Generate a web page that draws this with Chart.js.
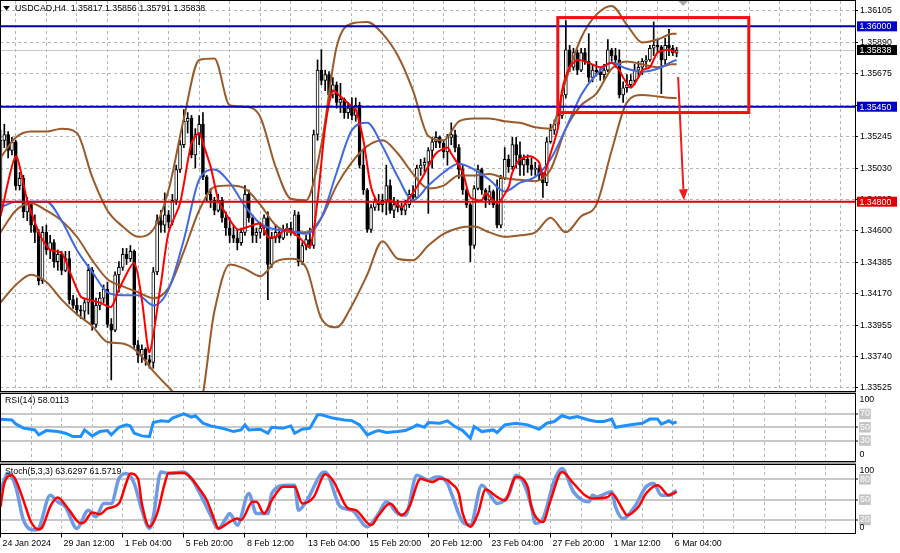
<!DOCTYPE html>
<html><head><meta charset="utf-8">
<script src="https://cdn.jsdelivr.net/npm/chart.js@4.4.1/dist/chart.umd.min.js"></script>
<style>
html,body{margin:0;padding:0;background:#fff;}
#wrap{position:relative;width:900px;height:553px;overflow:hidden;background:#fff;}
canvas{position:absolute;left:0;}
</style></head><body>
<div id="wrap">
<canvas id="cMain" width="900" height="393" style="top:0px"></canvas>
<canvas id="cRsi" width="900" height="70" style="top:392px"></canvas>
<canvas id="cSto" width="900" height="91" style="top:462px"></canvas>
</div>
<script>
// ---------- axis / tick data ----------
const xTickIdx = [0,16,32,48,64,80,96,112,128,144,160,176];
const xLabels = ['24 Jan 2024','29 Jan 12:00','1 Feb 04:00','5 Feb 20:00','8 Feb 12:00','13 Feb 04:00','15 Feb 20:00','20 Feb 12:00','23 Feb 04:00','27 Feb 20:00','1 Mar 12:00','6 Mar 04:00'];
const gridIdx = [0,8,16,24,32,40,48,56,64,72,80,88,96,104,112,120,128,136,144,152,160,168,176,184,192,200,208,216];
const priceTicks = [1.36105,1.35890,1.35675,1.35460,1.35245,1.35030,1.34815,1.34600,1.34385,1.34170,1.33955,1.33740,1.33525];
const levelPrices = [1.36000,1.35450,1.34800];
const bidPrice = 1.35838;
const title = 'USDCAD,H4  1.35817 1.35856 1.35791 1.35838';
const rsiTitle = 'RSI(14) 58.0113';
const stoTitle = 'Stoch(5,3,3) 63.6297 61.5719';
const rsiLevels = [30,50,70];
const stoLevels = [20,50,80];
// box annotation (bar index / price) and arrow
const boxArea = [145.9, 195.9, 1.3606, 1.3541];
const arrowPts = [177.4, 1.35653, 178.9, 1.3481];

// ---------- candles (H4 bars, index 0..177) ----------
const open = [1.3474,1.3522,1.3526,1.3515,1.3521,1.3491,1.3496,1.3473,1.3478,1.3464,1.3459,1.3426,1.3459,1.3447,1.3452,1.3439,1.3444,1.3433,1.3441,1.3413,
1.3409,1.3406,1.3405,1.3411,1.3433,1.3396,1.3409,1.3414,1.3420,1.3396,1.3392,1.3430,1.3435,1.3444,1.3441,1.3446,1.3382,1.3375,1.3379,1.3372,
1.3370,1.3432,1.3467,1.3464,1.3471,1.3466,1.3481,1.3502,1.3519,1.3535,1.3537,1.3512,1.3526,1.3533,1.3497,1.3485,1.3481,1.3474,1.3481,1.3469,
1.3462,1.3457,1.3455,1.3452,1.3459,1.3485,1.3469,1.3457,1.3459,1.3462,1.3469,1.3437,1.3455,1.3459,1.3455,1.3461,1.3462,1.3459,1.3471,1.3439,
1.3450,1.3454,1.3450,1.3526,1.3570,1.3563,1.3567,1.3553,1.3560,1.3548,1.3550,1.3541,1.3544,1.3539,1.3546,1.3505,1.3488,1.3461,1.3476,1.3480,
1.3478,1.3481,1.3491,1.3474,1.3478,1.3476,1.3474,1.3478,1.3485,1.3483,1.3503,1.3505,1.3507,1.3515,1.3521,1.3524,1.3520,1.3514,1.3524,1.3526,
1.3517,1.3502,1.3488,1.3478,1.3450,1.3489,1.3502,1.3488,1.3481,1.3487,1.3478,1.3464,1.3496,1.3509,1.3504,1.3519,1.3512,1.3505,1.3509,1.3505,
1.3502,1.3503,1.3498,1.3493,1.3521,1.3529,1.3533,1.3539,1.3553,1.3584,1.3572,1.3582,1.3570,1.3582,1.3576,1.3565,1.3570,1.3569,1.3567,1.3570,
1.3584,1.3580,1.3577,1.3553,1.3558,1.3560,1.3563,1.3570,1.3572,1.3576,1.3577,1.3585,1.3587,1.3586,1.3577,1.3587,1.3585,1.35817];
const high = [1.3529,1.3533,1.3528,1.3524,1.3522,1.3500,1.3498,1.3483,1.3479,1.3471,1.3461,1.3463,1.3464,1.3457,1.3454,1.3447,1.3446,1.3446,1.3446,1.3416,
1.3414,1.3409,1.3414,1.3437,1.3435,1.3414,1.3418,1.3423,1.3425,1.3400,1.3432,1.3439,1.3448,1.3448,1.3450,1.3447,1.3385,1.3382,1.3380,1.3375,
1.3435,1.3471,1.3474,1.3486,1.3474,1.3485,1.3505,1.3522,1.3543,1.3541,1.3539,1.3530,1.3539,1.3541,1.3498,1.3489,1.3483,1.3485,1.3483,1.3473,
1.3469,1.3464,1.3461,1.3462,1.3491,1.3488,1.3471,1.3462,1.3466,1.3471,1.3473,1.3459,1.3464,1.3462,1.3464,1.3465,1.3466,1.3474,1.3473,1.3452,
1.3457,1.3462,1.3529,1.3577,1.3584,1.3570,1.3569,1.3565,1.3562,1.3561,1.3551,1.3548,1.3551,1.3551,1.3548,1.3515,1.3489,1.3478,1.3483,1.3485,
1.3485,1.3505,1.3495,1.3483,1.3481,1.3479,1.3481,1.3488,1.3491,1.3505,1.3509,1.3510,1.3517,1.3524,1.3528,1.3525,1.3522,1.3526,1.3534,1.3529,
1.3519,1.3505,1.3489,1.3479,1.3491,1.3505,1.3503,1.3489,1.3491,1.3488,1.3495,1.3498,1.3517,1.3512,1.3524,1.3524,1.3521,1.3512,1.3512,1.3510,
1.3507,1.3505,1.3500,1.3524,1.3533,1.3536,1.3543,1.3556,1.3604,1.3587,1.3585,1.3584,1.3585,1.3585,1.3595,1.3574,1.3576,1.3571,1.3574,1.3591,
1.3585,1.3585,1.3584,1.3562,1.3567,1.3567,1.3574,1.3576,1.3578,1.3580,1.3587,1.3603,1.3591,1.3587,1.3592,1.3598,1.3587,1.35856];
const low = [1.3473,1.3517,1.3510,1.3512,1.3488,1.3488,1.3469,1.3467,1.3459,1.3452,1.3423,1.3424,1.3444,1.3441,1.3435,1.3433,1.3430,1.3432,1.3410,1.3407,
1.3403,1.3400,1.3399,1.3403,1.3392,1.3394,1.3406,1.3411,1.3394,1.3358,1.3391,1.3418,1.3433,1.3437,1.3439,1.3380,1.3370,1.3370,1.3368,1.3366,
1.3366,1.3430,1.3459,1.3459,1.3462,1.3464,1.3478,1.3500,1.3517,1.3527,1.3510,1.3503,1.3519,1.3495,1.3480,1.3476,1.3471,1.3473,1.3466,1.3457,
1.3452,1.3452,1.3447,1.3450,1.3457,1.3466,1.3452,1.3452,1.3455,1.3457,1.3413,1.3435,1.3452,1.3452,1.3454,1.3457,1.3457,1.3457,1.3436,1.3437,
1.3447,1.3448,1.3448,1.3522,1.3560,1.3556,1.3551,1.3551,1.3544,1.3541,1.3537,1.3537,1.3536,1.3535,1.3503,1.3485,1.3459,1.3459,1.3474,1.3474,
1.3473,1.3471,1.3472,1.3469,1.3473,1.3471,1.3471,1.3476,1.3480,1.3483,1.3498,1.3500,1.3472,1.3503,1.3517,1.3517,1.3510,1.3505,1.3519,1.3514,
1.3496,1.3485,1.3476,1.3439,1.3448,1.3488,1.3485,1.3476,1.3478,1.3476,1.3462,1.3462,1.3495,1.3500,1.3502,1.3503,1.3498,1.3498,1.3500,1.3498,
1.3498,1.3495,1.3483,1.3491,1.3520,1.3526,1.3531,1.3537,1.3551,1.3569,1.3570,1.3567,1.3569,1.3574,1.3562,1.3562,1.3566,1.3563,1.3563,1.3569,
1.3576,1.3572,1.3551,1.3548,1.3555,1.3558,1.3560,1.3565,1.3567,1.3572,1.3576,1.3580,1.3582,1.3554,1.3574,1.3580,1.3580,1.35791];
const close = [1.3522,1.3526,1.3515,1.3521,1.3491,1.3496,1.3473,1.3478,1.3464,1.3459,1.3426,1.3459,1.3447,1.3452,1.3439,1.3444,1.3433,1.3441,1.3413,1.3409,
1.3406,1.3405,1.3411,1.3433,1.3396,1.3409,1.3414,1.3420,1.3396,1.3392,1.3430,1.3435,1.3444,1.3441,1.3446,1.3382,1.3375,1.3379,1.3372,1.3370,
1.3432,1.3467,1.3464,1.3471,1.3466,1.3481,1.3502,1.3519,1.3535,1.3537,1.3512,1.3526,1.3533,1.3497,1.3485,1.3481,1.3474,1.3481,1.3469,1.3462,
1.3457,1.3455,1.3452,1.3459,1.3485,1.3469,1.3457,1.3459,1.3462,1.3469,1.3437,1.3455,1.3459,1.3455,1.3461,1.3462,1.3459,1.3471,1.3439,1.3450,
1.3454,1.3450,1.3526,1.3570,1.3563,1.3567,1.3553,1.3560,1.3548,1.3550,1.3541,1.3544,1.3539,1.3546,1.3505,1.3488,1.3461,1.3476,1.3480,1.3478,
1.3481,1.3491,1.3474,1.3478,1.3476,1.3474,1.3478,1.3485,1.3483,1.3503,1.3505,1.3507,1.3515,1.3521,1.3524,1.3520,1.3514,1.3524,1.3526,1.3517,
1.3502,1.3488,1.3478,1.3450,1.3489,1.3502,1.3488,1.3481,1.3487,1.3478,1.3464,1.3496,1.3509,1.3504,1.3519,1.3512,1.3505,1.3509,1.3505,1.3502,
1.3503,1.3498,1.3493,1.3521,1.3529,1.3533,1.3539,1.3553,1.3584,1.3572,1.3582,1.3570,1.3582,1.3576,1.3565,1.3570,1.3569,1.3567,1.3570,1.3584,
1.3580,1.3577,1.3553,1.3558,1.3560,1.3563,1.3570,1.3572,1.3576,1.3577,1.3585,1.3587,1.3586,1.3577,1.3587,1.3585,1.3582,1.35838];

// ---------- Bollinger bands & blue MA (read every 4 bars) ----------
const bandIdx = [0,4,8,12,16,20,24,28,32,36,40,44,48,52,56,60,64,68,72,76,80,84,88,92,96,100,104,108,112,116,120,124,128,132,136,140,144,148,152,156,160,164,168,172,176,177];
const bbUpper = [1.3510,1.3524,1.3528,1.3528,1.3530,1.3527,1.3497,1.3474,1.3463,1.3456,1.3461,1.3488,1.3537,1.3577,1.3578,1.3546,1.3545,1.3538,1.3504,1.3482,1.3481,1.3519,1.3586,1.3602,1.3603,1.3595,1.3580,1.3556,1.3525,1.3522,1.3535,1.3537,1.3537,1.3535,1.3534,1.3531,1.3530,1.3563,1.3592,1.3608,1.3614,1.3601,1.3589,1.3591,1.3595,1.3595];
const bbMid = [1.3459,1.3474,1.3479,1.3474,1.3467,1.3456,1.3440,1.3427,1.3422,1.3418,1.3414,1.3421,1.3446,1.3474,1.3490,1.3491,1.3489,1.3478,1.3464,1.3459,1.3459,1.3469,1.3491,1.3507,1.3518,1.3522,1.3513,1.3499,1.3489,1.3491,1.3498,1.3498,1.3499,1.3496,1.3495,1.3494,1.3502,1.3530,1.3546,1.3554,1.3571,1.3576,1.3574,1.3572,1.3574,1.3574];
const bbLower = [1.3411,1.3423,1.3430,1.3425,1.3413,1.3403,1.3395,1.3384,1.3383,1.3377,1.3364,1.3353,1.3343,1.3341,1.3405,1.3437,1.3434,1.3429,1.3439,1.3441,1.3435,1.3400,1.3394,1.3409,1.3430,1.3453,1.3441,1.3440,1.3450,1.3458,1.3462,1.3463,1.3459,1.3456,1.3457,1.3459,1.3469,1.3459,1.3470,1.3478,1.3515,1.3548,1.3553,1.3552,1.3551,1.3551];
const blueMA = [1.3476,1.3480,1.3480,1.3480,1.3467,1.3447,1.3432,1.3418,1.3416,1.3416,1.3409,1.3420,1.3454,1.3495,1.3502,1.3493,1.3477,1.3465,1.3461,1.3460,1.3458,1.3469,1.3500,1.3529,1.3534,1.3518,1.3497,1.3481,1.3491,1.3500,1.3506,1.3502,1.3495,1.3487,1.3493,1.3497,1.3509,1.3530,1.3553,1.3567,1.3575,1.3571,1.3569,1.3571,1.3576,1.3577];

// ---------- red fast MA ----------
const redIdx = [0,4,7,10,11,13,16,18,21,23,26,29,31,35,37,39,42,44,47,50,52,53,55,57,58,62,65,68,70,72,75,78,81,83,85,87,89,92,93,95,97,99,102,105,106,109,112,114,117,118,121,123,126,127,130,133,134,136,139,141,142,144,146,147,149,151,154,157,160,162,163,165,167,168,170,172,175,177];
const redMA = [1.3470,1.3511,1.3481,1.3459,1.3454,1.3447,1.3445,1.3433,1.3415,1.3413,1.3411,1.3408,1.3420,1.3438,1.3413,1.3377,1.3424,1.3459,1.3479,1.3520,1.3527,1.3520,1.3504,1.3481,1.3476,1.3461,1.3463,1.3465,1.3456,1.3456,1.3461,1.3456,1.3449,1.3481,1.3531,1.3556,1.3552,1.3545,1.3543,1.3522,1.3490,1.3479,1.3481,1.3476,1.3479,1.3490,1.3504,1.3513,1.3517,1.3513,1.3500,1.3483,1.3481,1.3486,1.3479,1.3490,1.3500,1.3509,1.3511,1.3507,1.3497,1.3513,1.3531,1.3556,1.3572,1.3577,1.3575,1.3572,1.3575,1.3570,1.3565,1.3558,1.3565,1.3570,1.3572,1.3582,1.3584,1.3582];

// ---------- RSI(14) ----------
const rsiIdx = [0,3,4,6,9,10,12,15,17,19,21,22,24,26,28,29,31,33,34,35,37,39,40,42,44,45,48,50,51,53,55,58,61,63,64,65,68,70,71,74,76,77,79,81,83,84,87,90,92,94,96,98,99,101,104,106,108,109,111,112,115,117,119,121,123,124,126,129,130,132,135,138,141,143,145,147,149,151,154,156,158,160,161,165,168,170,172,173,175,176,177];
const rsiVal = [62,61,55,48.6,46,38.5,45,43.5,41,36,36,46,37,43.5,45,38.5,50,53.6,52,41,37,36,57,59.7,58.6,63.8,70.3,65.3,67.3,56.2,52,48.6,43.5,46,53.6,46,47,41,50,48.6,52,41,47,48.6,68.8,68.8,63.8,61,60,53.6,38.5,43.5,45,42,43.5,45,50,53.6,50,57,56,59.7,51,45,33.5,51,43.5,46,42,53.6,56,53.6,47,56,58.6,67.7,63.8,66.2,61,58.6,58.6,62.3,50,53.6,56,62.3,62.3,54.7,59.7,56,58.01];

// ---------- Stochastic(5,3,3) ----------
const stKIdx = [0,2,4,6,9,10,13,15,17,20,23,25,27,29,31,33,35,37,39,40,42,44,48,50,52,55,57,59,60,62,65,67,70,71,75,77,78,80,84,85,89,92,96,99,101,104,106,109,112,114,115,117,118,121,123,126,128,130,133,135,137,139,140,142,145,147,150,154,155,156,160,161,163,166,169,171,173,175,177];
const stKVal = [64,88.6,69,20,5,7.5,56.6,46.8,39.4,7.5,34.5,24.7,44.4,44.4,81,88.6,74,34.5,7.5,24.7,91,88.6,91,81,61.5,27,7.5,22,29.6,12.4,59,29.6,29.6,59,71.4,71.4,34.5,46.8,88.6,91,39.4,34.5,10,29.6,46.8,29.6,27,86,78.8,83.6,83.6,74,60,17,12.4,71.4,59,44.4,56.6,86,74,39.4,15,22,78.8,96,61.5,46.8,56.6,54,61.5,39.4,22,39.4,69,74,56.6,56.6,63.63];
const stDIdx = [0,1,3,4,6,8,10,11,13,15,16,18,21,22,24,26,28,31,33,34,36,37,39,41,43,44,48,50,52,54,56,57,60,62,63,66,67,69,71,74,77,79,82,85,87,91,93,97,99,102,105,107,110,113,115,117,118,120,121,123,125,127,130,132,135,138,139,142,144,147,150,153,155,159,160,163,164,167,169,172,175,177];
const stDVal = [39.4,74,86,78.8,49,17,6,10,39.4,53,49,34.5,15,17,31,28.6,37,44.4,76,88.6,81,44.4,10,29.6,74,89.5,89.5,81,66.5,49,20,7.5,17,22,20,46.8,46.8,29.6,49,69,69,44.4,54,87.6,78.8,37,34.5,12.4,27,44.4,27,39.4,81,76,81,78.8,74,59,29.6,10,29.6,65,54,49,83.6,69,39.4,17,49,91,74,56.6,51.8,54,59,34.5,27,39.4,59,71.4,56.6,61.57];

// ---------- styling ----------
const FONT = "'Liberation Sans', Arial, sans-serif";
const FS = 8.8;
Chart.defaults.font.family = FONT;
Chart.defaults.font.size = FS;
Chart.defaults.color = '#000';
const GRID = '#b4b4b4';
const BROWN = '#9b5a2a';
const XMIN = -0.13, XMAX = 223.7;

const zip = (ix, v) => ix.map((k, j) => ({x: k, y: v[j]}));
const isLab = v => xTickIdx.indexOf(v) >= 0;

function xScale(show) {
  return {
    type: 'linear', position: 'bottom', min: XMIN, max: XMAX, offset: false,
    afterBuildTicks: s => { s.ticks = gridIdx.map(v => ({value: v})); },
    afterFit: s => { s.height = show ? 19.5 : 0; s.paddingLeft = 0; s.paddingRight = 0; },
    grid: { color: GRID, lineWidth: 1, drawTicks: show, tickLength: 4, tickWidth: 1,
            tickColor: c => (c.tick && isLab(c.tick.value)) ? '#000' : 'rgba(0,0,0,0)' },
    border: { display: false, dash: [3, 3] },
    ticks: { display: show, align: 'start', maxRotation: 0, minRotation: 0, autoSkip: false,
             padding: 1, labelOffset: 2, color: '#000',
             callback: v => { const j = xTickIdx.indexOf(v); return j >= 0 ? xLabels[j] : ''; } }
  };
}
function yFit(s) { s.width = 45; s.paddingTop = 0; s.paddingBottom = 0; }
const base = { responsive: false, animation: false, events: [],
  plugins: { legend: { display: false }, tooltip: { enabled: false } } };

function txt(ctx, s, x, y, color, align) {
  ctx.save(); ctx.font = FS + 'px ' + FONT; ctx.fillStyle = color || '#000';
  ctx.textAlign = align || 'left'; ctx.textBaseline = 'middle'; ctx.fillText(s, x, y); ctx.restore();
}

// ---------- main chart ----------
const wickData = open.map((o, i) => ({x: i, y: [low[i], high[i]]}));
const bodyData = open.map((o, i) => ({x: i, y: [o, close[i]]}));
const bodyFill = open.map((o, i) => close[i] >= o ? '#ffffff' : '#000000');

const mainPlugin = {
  id: 'mainDeco',
  beforeDatasetsDraw(ch) {
    const {ctx, chartArea: a, scales: {y}} = ch;
    const yy = Math.round(y.getPixelForValue(bidPrice)) + 0.5;
    ctx.save(); ctx.strokeStyle = '#c8c8c8'; ctx.lineWidth = 1;
    ctx.beginPath(); ctx.moveTo(a.left, yy); ctx.lineTo(a.right, yy); ctx.stroke(); ctx.restore();
  },
  afterDatasetsDraw(ch) {
    const {ctx, chartArea: a, scales: {x, y}} = ch;
    ctx.save();
    ctx.beginPath(); ctx.rect(a.left, a.top, a.right - a.left, a.bottom - a.top); ctx.clip();
    const cols = ['#0000b4', '#0000b4', '#dd0000'];
    levelPrices.forEach((p, j) => {
      const yy = y.getPixelForValue(p);
      ctx.strokeStyle = cols[j]; ctx.lineWidth = 2;
      ctx.beginPath(); ctx.moveTo(a.left, yy); ctx.lineTo(a.right, yy); ctx.stroke();
    });
    // rectangle
    const x1 = x.getPixelForValue(boxArea[0]), x2 = x.getPixelForValue(boxArea[1]);
    const y1 = y.getPixelForValue(boxArea[2]), y2 = y.getPixelForValue(boxArea[3]);
    ctx.strokeStyle = '#f01010'; ctx.lineWidth = 3;
    ctx.strokeRect(x1, y1, x2 - x1, y2 - y1);
    // arrow
    const ax1 = x.getPixelForValue(arrowPts[0]), ay1 = y.getPixelForValue(arrowPts[1]);
    const ax2 = x.getPixelForValue(arrowPts[2]), ay2 = y.getPixelForValue(arrowPts[3]);
    const ang = Math.atan2(ay2 - ay1, ax2 - ax1);
    const hl = 11, hw = 4.5;
    const bx = ax2 - hl * Math.cos(ang), by = ay2 - hl * Math.sin(ang);
    ctx.strokeStyle = '#ee1c1c'; ctx.fillStyle = '#ee1c1c'; ctx.lineWidth = 2;
    ctx.beginPath(); ctx.moveTo(ax1, ay1); ctx.lineTo(bx, by); ctx.stroke();
    ctx.beginPath(); ctx.moveTo(ax2, ay2);
    ctx.lineTo(bx + hw * Math.sin(ang), by - hw * Math.cos(ang));
    ctx.lineTo(bx - hw * Math.sin(ang), by + hw * Math.cos(ang));
    ctx.closePath(); ctx.fill();
    ctx.restore();
  },
  afterDraw(ch) {
    const {ctx, chartArea: a, scales: {x, y}} = ch;
    ctx.save();
    // frame
    ctx.strokeStyle = '#000'; ctx.lineWidth = 1;
    ctx.strokeRect(0.5, 0.5, 855, 391);
    // chart shift marker
    const sx = x.getPixelForValue(178.7);
    ctx.fillStyle = '#a8a8a8';
    ctx.beginPath(); ctx.moveTo(sx - 5, 1); ctx.lineTo(sx + 5, 1); ctx.lineTo(sx, 6); ctx.closePath(); ctx.fill();
    // title
    ctx.fillStyle = '#000';
    ctx.beginPath(); ctx.moveTo(3, 6); ctx.lineTo(10, 6); ctx.lineTo(6.5, 10.5); ctx.closePath(); ctx.fill();
    ctx.restore();
    txt(ctx, title, 15, 8.5, '#000');
    // price boxes
    const boxes = [[levelPrices[0], '#0000c8'], [bidPrice, '#000000'], [levelPrices[1], '#0000c8'], [levelPrices[2], '#e00000']];
    boxes.forEach(([p, c]) => {
      const yy = y.getPixelForValue(p);
      ctx.fillStyle = c; ctx.fillRect(857, yy - 5, 40, 10);
      txt(ctx, p.toFixed(5), 859.5, yy + 0.5, '#ffffff');
    });
  }
};

new Chart(document.getElementById('cMain'), {
  type: 'bar',
  data: { datasets: [
    { type: 'line', data: zip(redIdx, redMA), borderColor: '#ff0000', borderWidth: 2, pointRadius: 0, tension: 0.25, order: 1 },
    { type: 'line', data: zip(bandIdx, blueMA), borderColor: '#4169e1', borderWidth: 2, pointRadius: 0, tension: 0.4, cubicInterpolationMode: 'monotone', order: 2 },
    { type: 'line', data: zip(bandIdx, bbUpper), borderColor: BROWN, borderWidth: 2, pointRadius: 0, tension: 0.4, cubicInterpolationMode: 'monotone', order: 3 },
    { type: 'line', data: zip(bandIdx, bbMid), borderColor: BROWN, borderWidth: 2, pointRadius: 0, tension: 0.4, cubicInterpolationMode: 'monotone', order: 3 },
    { type: 'line', data: zip(bandIdx, bbLower), borderColor: BROWN, borderWidth: 2, pointRadius: 0, tension: 0.4, cubicInterpolationMode: 'monotone', order: 3 },
    { type: 'bar', data: bodyData, backgroundColor: bodyFill, borderColor: '#000', borderWidth: 1, borderSkipped: false,
      barThickness: 3, minBarLength: 1, grouped: false, order: 9 },
    { type: 'bar', data: wickData, backgroundColor: '#000', borderWidth: 0, barThickness: 1, grouped: false, order: 10 }
  ]},
  options: { ...base,
    layout: { padding: { top: 1, bottom: 1, left: 0, right: 0 } },
    scales: {
      x: xScale(false),
      y: { type: 'linear', position: 'right', min: 1.334976, max: 1.361734,
        afterBuildTicks: s => { s.ticks = priceTicks.map(v => ({value: v})); },
        afterFit: yFit,
        grid: { color: GRID, lineWidth: 1, drawTicks: true, tickLength: 3, tickColor: '#000' },
        border: { display: false, dash: [3, 3] },
        ticks: { color: '#000', padding: 2, callback: v => v.toFixed(5) } }
    }
  },
  plugins: [mainPlugin]
});

// ---------- indicator windows ----------
function indPlugin(name, label, frameTop, frameH, topLblY, botLblY) {
  return {
    id: name,
    afterDraw(ch) {
      const ctx = ch.ctx;
      ctx.save();
      ctx.fillStyle = '#a0a0a0'; ctx.fillRect(0, 0, 856, frameTop - 0.5);
      ctx.strokeStyle = '#000'; ctx.lineWidth = 1;
      ctx.strokeRect(0.5, frameTop, 855, frameH);
      ctx.restore();
      txt(ctx, label, 5, frameTop + 7.5, '#000');
      txt(ctx, '100', 859.5, topLblY, '#000');
      txt(ctx, '0', 859.5, botLblY, '#000');
    }
  };
}
function levelAxis(levels) {
  return { type: 'linear', position: 'right', min: 0, max: 100,
    afterBuildTicks: s => { s.ticks = levels.map(v => ({value: v})); },
    afterFit: yFit,
    grid: { color: '#c8c8c8', lineWidth: 2, drawTicks: true, tickLength: 3, tickColor: '#000', tickWidth: 1 },
    border: { display: false, dash: [] },
    ticks: { color: '#ffffff', padding: 2, showLabelBackdrop: true, backdropColor: '#c4c4c4',
             backdropPadding: { x: 1, y: 0 }, callback: v => String(v) } };
}

new Chart(document.getElementById('cRsi'), {
  type: 'line',
  data: { datasets: [
    { data: zip(rsiIdx, rsiVal), borderColor: '#1e90ff', borderWidth: 3, pointRadius: 0, tension: 0 }
  ]},
  options: { ...base,
    layout: { padding: { top: 2, bottom: 1.5, left: 0, right: 0 } },
    scales: { x: xScale(false), y: levelAxis(rsiLevels) }
  },
  plugins: [indPlugin('rsiDeco', rsiTitle, 1.5, 68, 8, 63)]
});

new Chart(document.getElementById('cSto'), {
  type: 'line',
  data: { datasets: [
    { data: zip(stDIdx, stDVal), borderColor: '#ff0000', borderWidth: 2.5, pointRadius: 0, tension: 0.4, cubicInterpolationMode: 'monotone', order: 1 },
    { data: zip(stKIdx, stKVal), borderColor: '#6f9be6', borderWidth: 3.5, pointRadius: 0, tension: 0.4, cubicInterpolationMode: 'monotone', order: 2 }
  ]},
  options: { ...base,
    layout: { padding: { top: 3.8, bottom: 0, left: 0, right: 0 } },
    scales: { x: xScale(true), y: levelAxis(stoLevels) }
  },
  plugins: [indPlugin('stoDeco', stoTitle, 2.5, 69, 8.7, 65.7)]
});
</script>
</body></html>
